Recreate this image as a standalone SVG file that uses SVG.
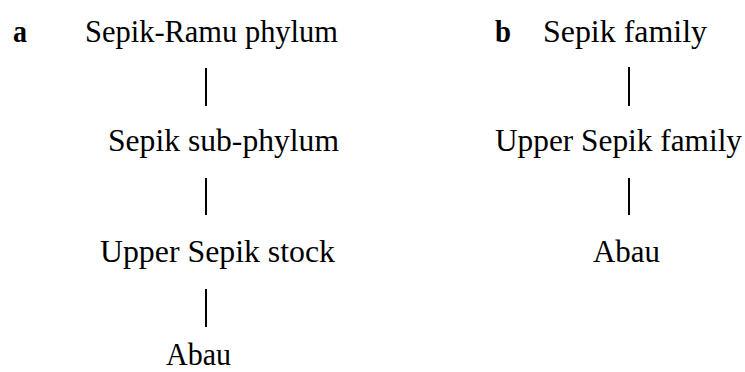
<svg xmlns="http://www.w3.org/2000/svg" width="745" height="372" viewBox="0 0 745 372">
<style>
text{font-family:"Liberation Serif","Times New Roman",serif;font-size:31px;fill:#000}
.lbl{font-weight:bold}
.c{stroke:#000;stroke-width:2;fill:none}
</style>
<rect width="745" height="372" fill="#fff"/>
<text class="lbl" x="13" y="42" textLength="14" lengthAdjust="spacingAndGlyphs">a</text>
<text class="lbl" x="495" y="42" textLength="16" lengthAdjust="spacingAndGlyphs">b</text>
<g id="connectors">
<line class="c" x1="206" y1="68" x2="206" y2="106"/>
<line class="c" x1="206" y1="178" x2="206" y2="215"/>
<line class="c" x1="206" y1="289" x2="206" y2="327"/>
<line class="c" x1="629" y1="67" x2="629" y2="106"/>
<line class="c" x1="629" y1="178" x2="629" y2="215"/>
</g>
<g id="a1"><text x="85" y="42" textLength="253" lengthAdjust="spacingAndGlyphs">Sepik-Ramu phylum</text></g>
<g id="a2"><text x="108" y="151" textLength="231" lengthAdjust="spacingAndGlyphs">Sepik sub-phylum</text></g>
<g id="a3"><text x="100" y="262" textLength="235" lengthAdjust="spacingAndGlyphs">Upper Sepik stock</text></g>
<g id="a4"><text x="166" y="365" textLength="65" lengthAdjust="spacingAndGlyphs">Abau</text></g>
<g id="b1"><text x="543" y="42" textLength="164" lengthAdjust="spacingAndGlyphs">Sepik family</text></g>
<g id="b2"><text x="495" y="151" textLength="247" lengthAdjust="spacingAndGlyphs">Upper Sepik family</text></g>
<g id="b3"><text x="593" y="262" textLength="67" lengthAdjust="spacingAndGlyphs">Abau</text></g>
</svg>
